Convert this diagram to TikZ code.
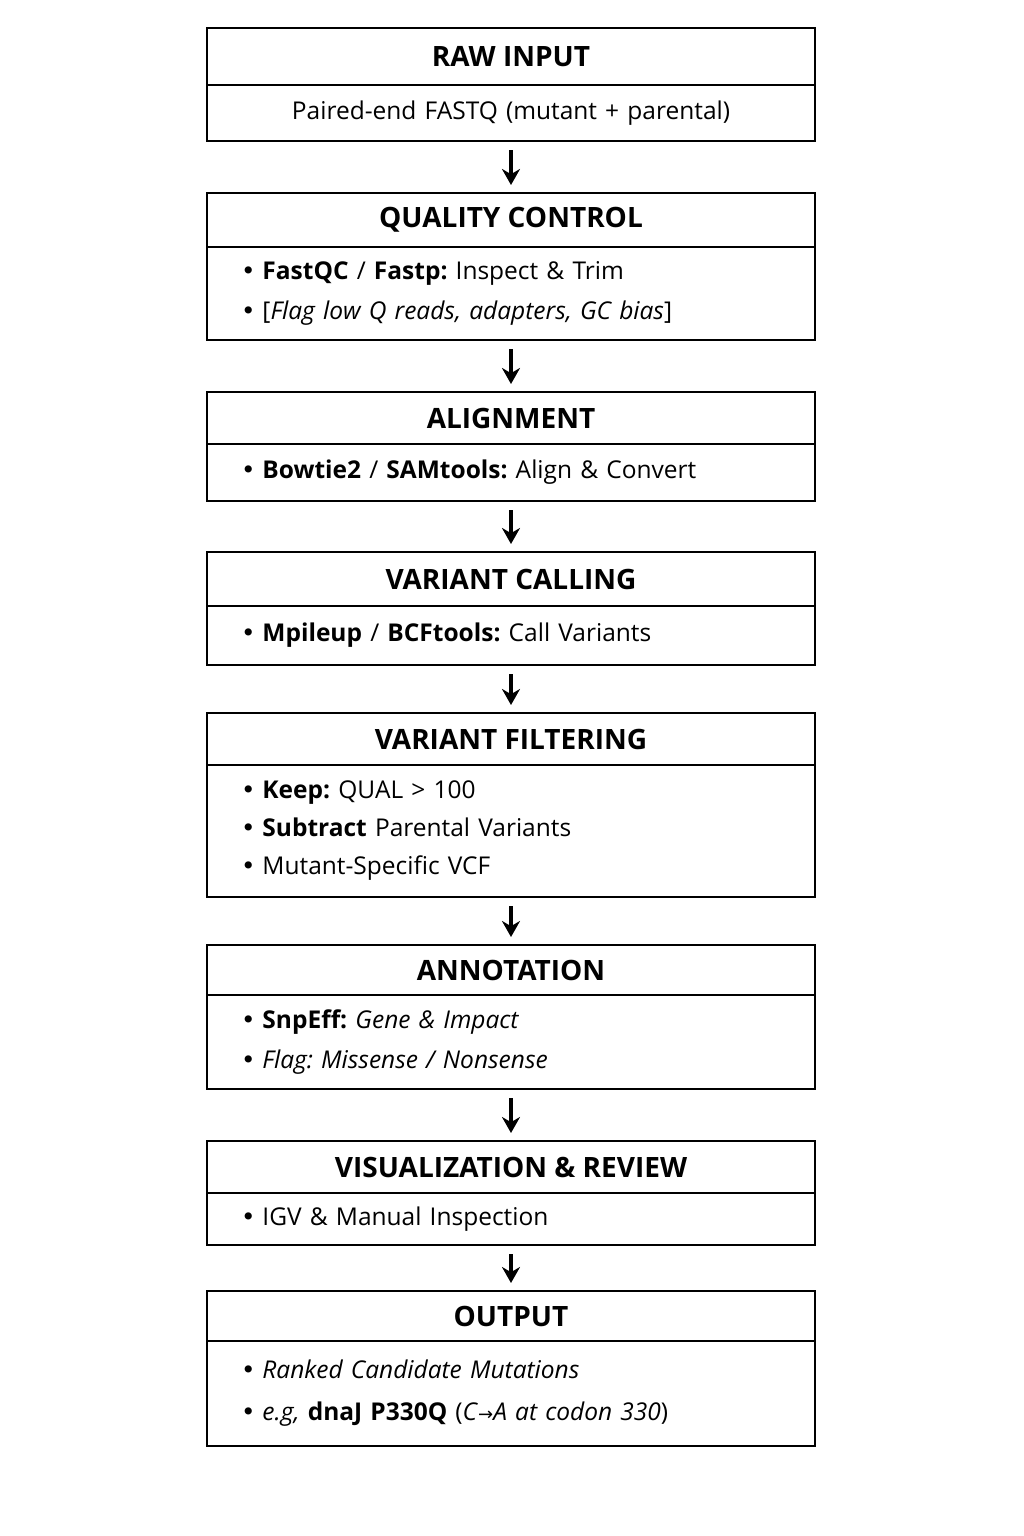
\documentclass[tikz,border=0pt]{standalone}
\usepackage{fontspec}
\setmainfont{Open Sans}
\newfontfamily\arrowfont{DejaVu Sans}
\usetikzlibrary{positioning}
\usetikzlibrary{arrows.meta}
\tikzstyle{headbox} = [draw, line width=2pt, outer sep=0pt, minimum width=608pt, font=\fontsize{28}{30}\selectfont\bfseries]
\tikzstyle{bodybox} = [draw, line width=2pt, outer sep=0pt, minimum width=608pt, text width=540pt, inner xsep=34pt, align=left, font=\frenchspacing\fontsize{24.5}{40}\selectfont]
\tikzstyle{flow} = [-{Stealth[length=16pt,width=18pt]}, line width=3.2pt, shorten <=9pt, shorten >=8pt]
\newcommand{\itm}{{\arrowfont •}\hspace{7pt}}

\begin{document}
\begin{tikzpicture}[x=1pt, y=-1pt]
  \fill[white] (0,0) rectangle (1024,1536);
  \useasboundingbox (0,0) rectangle (1024,1536);

  % stages
  \node[headbox, minimum height=57pt] (raw) at (511,56.5) {RAW INPUT};
  \node[bodybox, minimum height=56pt, align=center, below=0pt of raw] (rawb) {Paired-end FASTQ (mutant + parental)};

  \node[headbox, minimum height=54pt] (qc) at (511,220) {QUALITY CONTROL};
  \node[bodybox, minimum height=93pt, below=0pt of qc] (qcb) {\itm\textbf{FastQC} / \textbf{Fastp:} Inspect \& Trim\\
    \itm[\textit{Flag low Q reads, adapters, GC bias}]};

  \node[headbox, minimum height=52pt] (aln) at (511,418) {ALIGNMENT};
  \node[bodybox, minimum height=57pt, below=0pt of aln] (alnb) {\itm\textbf{Bowtie2} / \textbf{SAMtools:} Align \& Convert};

  \node[headbox, minimum height=54pt] (call) at (511,579) {VARIANT CALLING};
  \node[bodybox, minimum height=59pt, below=0pt of call] (callb) {\itm\textbf{Mpileup} / \textbf{BCFtools:} Call Variants};

  \node[headbox, minimum height=52pt] (filt) at (511,739) {VARIANT FILTERING};
  \node[bodybox, minimum height=132pt, font=\frenchspacing\fontsize{24.5}{38}\selectfont, below=0pt of filt] (filtb) {\itm\textbf{Keep:} QUAL > 100\\
    \itm\textbf{Subtract} Parental Variants\\
    \itm Mutant-Specific VCF};

  \node[headbox, minimum height=50pt] (ann) at (511,970) {ANNOTATION};
  \node[bodybox, minimum height=94pt, below=0pt of ann] (annb) {\itm\textbf{SnpEff:} \textit{Gene \& Impact}\\
    \itm\textit{Flag: Missense / Nonsense}};

  \node[headbox, minimum height=52pt] (vis) at (511,1167) {VISUALIZATION \& REVIEW};
  \node[bodybox, minimum height=52pt, below=0pt of vis] (visb) {\itm IGV \& Manual Inspection};

  \node[headbox, minimum height=50pt] (out) at (511,1316) {OUTPUT};
  \node[bodybox, minimum height=105pt, font=\frenchspacing\fontsize{24.5}{42}\selectfont, below=0pt of out] (outb) {\itm\textit{Ranked Candidate Mutations}\\
    \itm\textit{e.g,} \textbf{dnaJ P330Q} (\textit{C}{\arrowfont\fontsize{18}{18}\selectfont →}\textit{A at codon 330})};

  % arrows
  \draw[flow] (rawb) -- (qc);
  \draw[flow] (qcb) -- (aln);
  \draw[flow] (alnb) -- (call);
  \draw[flow] (callb) -- (filt);
  \draw[flow] (filtb) -- (ann);
  \draw[flow] (annb) -- (vis);
  \draw[flow] (visb) -- (out);
\end{tikzpicture}
\end{document}
